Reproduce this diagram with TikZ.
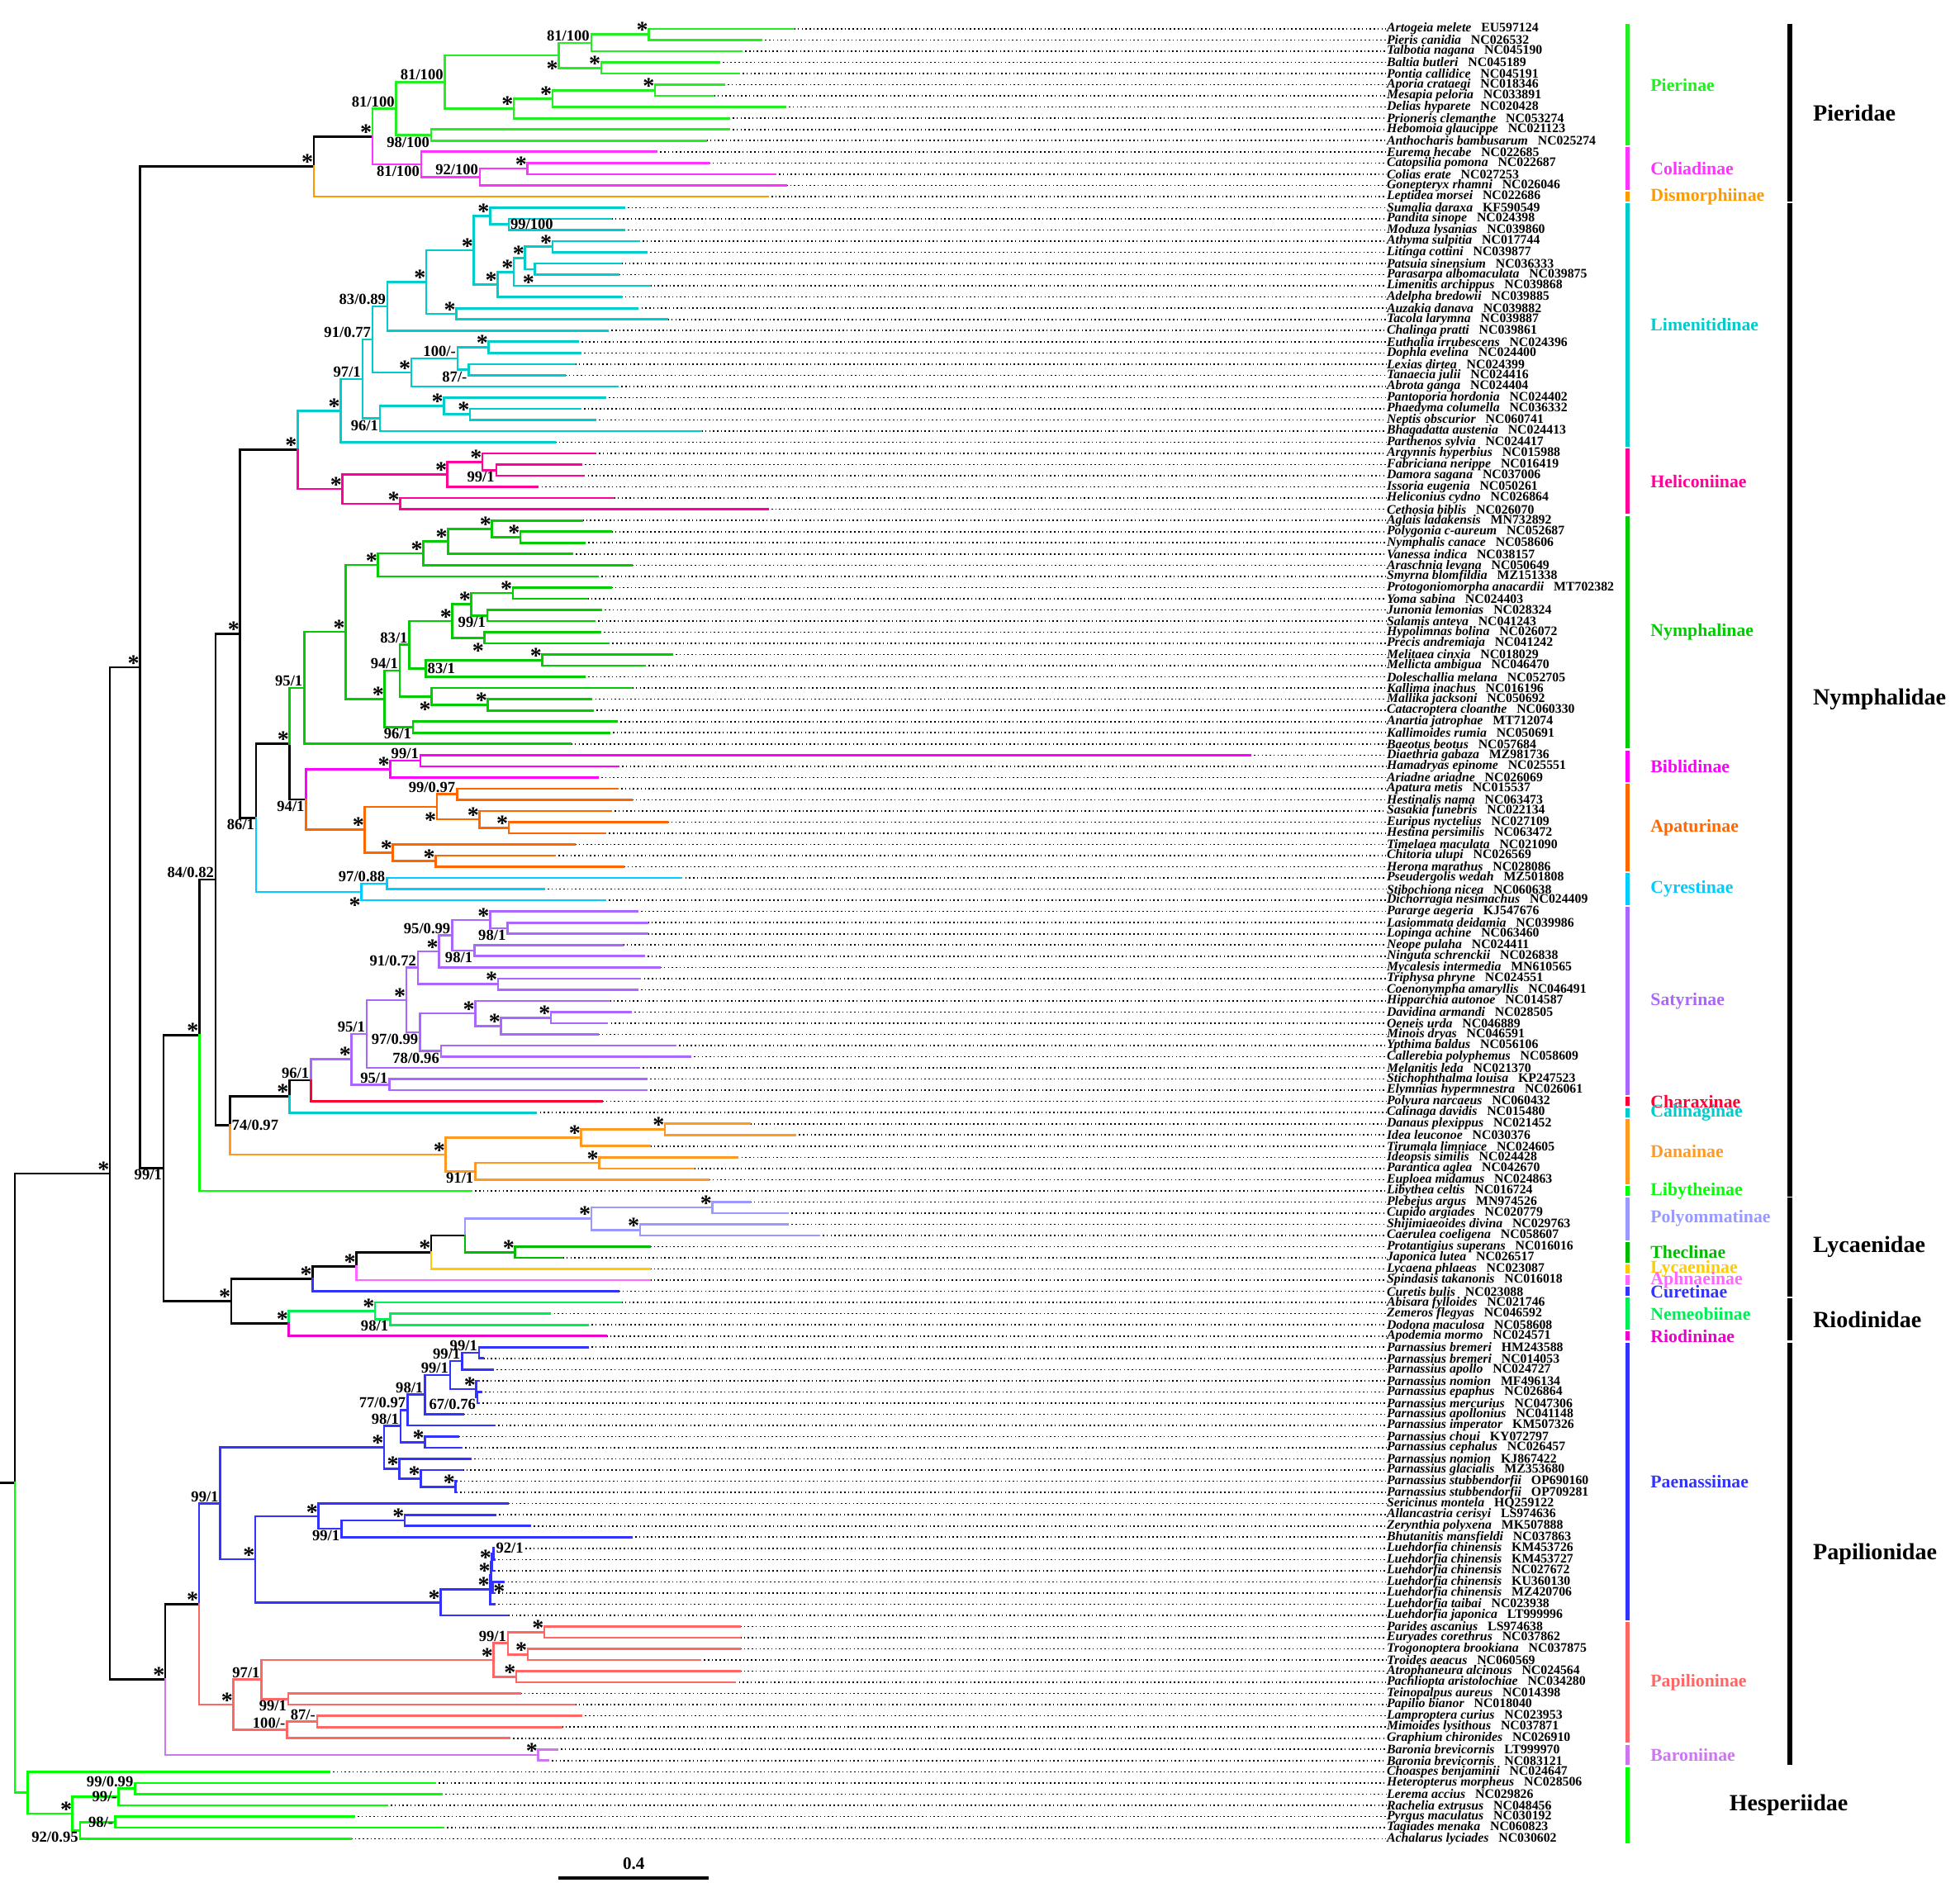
\documentclass[tikz,border=0pt]{standalone}
\usepackage{fontspec}
\setmainfont{Liberation Serif}
\usetikzlibrary{calc}

\definecolor{pier}{RGB}{34,238,34}
\definecolor{coli}{RGB}{255,51,255}
\definecolor{dism}{RGB}{255,153,0}
\definecolor{lime}{RGB}{0,204,204}
\definecolor{heli}{RGB}{255,0,153}
\definecolor{nymp}{RGB}{0,204,0}
\definecolor{bibl}{RGB}{255,0,255}
\definecolor{apat}{RGB}{255,102,0}
\definecolor{cyre}{RGB}{0,204,255}
\definecolor{saty}{RGB}{170,102,255}
\definecolor{char}{RGB}{255,0,51}
\definecolor{cali}{RGB}{0,204,204}
\definecolor{dana}{RGB}{255,153,34}
\definecolor{liby}{RGB}{0,255,0}
\definecolor{poly}{RGB}{153,153,255}
\definecolor{thec}{RGB}{0,187,0}
\definecolor{lyca}{RGB}{255,204,0}
\definecolor{aphn}{RGB}{255,102,255}
\definecolor{cure}{RGB}{51,51,255}
\definecolor{neme}{RGB}{0,238,85}
\definecolor{riod}{RGB}{238,0,204}
\definecolor{paen}{RGB}{51,51,255}
\definecolor{papi}{RGB}{255,102,102}
\definecolor{baro}{RGB}{204,119,238}
\definecolor{hesp}{RGB}{0,255,0}

% clade node: x given, y halfway between first and last child
\newcommand\clade[4]{\coordinate (tmp) at ($(#3)!0.5!(#4)$);
  \coordinate (#1) at (#2,0 |- tmp);}
\newcommand\kids[3][]{\foreach \ch in {#3} {\draw[br,#1] (#2) |- (\ch);}}
\newcommand\supA[2]{\node[sup,anchor=south east] (s#1) at (#1) {#2};}
\newcommand\supB[2]{\node[sup,anchor=north east] (s#1) at (#1) {#2};}
\newcommand\supL[2]{\node[sup,anchor=east] (s#1) at (#1) {#2};}
\newcommand\supR[2]{\node[sup,anchor=west] (s#1) at (#1) {#2};}
\newcommand\astA[1]{\node[ast,anchor=base east,yshift=-1.2pt] (k#1) at (#1) {*};}
\newcommand\astB[1]{\node[ast,anchor=base east,yshift=-7.2pt] (k#1) at (#1) {*};}
\newcommand\astR[1]{\node[ast,anchor=base west,yshift=-4.2pt] (k#1) at (#1) {*};}

\begin{document}
\begin{tikzpicture}[x=0.015134cm, y=-0.1353cm,
  br/.style={line width=0.75pt, line cap=rect},
  dots/.style={line width=0.45pt, dash pattern=on 0.45pt off 0.9pt},
  taxon/.style={anchor=west, inner sep=0pt, font=\fontsize{4.5}{5}\selectfont\bfseries},
  sup/.style={inner sep=0.4pt, font=\fontsize{5.3}{6}\selectfont\bfseries},
  ast/.style={inner sep=0pt, font=\fontsize{8}{8}\selectfont\bfseries},
  bar/.style={line width=1.4pt},
  fbar/.style={line width=1.6pt},
  sub/.style={anchor=west, inner sep=0pt, font=\fontsize{6.2}{7}\selectfont\bfseries},
  fam/.style={anchor=west, inner sep=0pt, font=\fontsize{8}{10}\selectfont\bfseries}]

\useasboundingbox (0,-1.587) rectangle (1568,168.18);

% tips and names
\foreach \rw/\xe/\nm/\ac in {
1/635/Artogeia melete/EU597124, 2/609/Pieris canidia/NC026532,
3/593/Talbotia nagana/NC045190, 4/575/Baltia butleri/NC045189,
5/591/Pontia callidice/NC045191, 6/579/Aporia crataegi/NC018346,
7/571/Mesapia peloria/NC033891, 8/628/Delias hyparete/NC020428,
9/583/Prioneris clemanthe/NC053274, 10/583/Hebomoia glaucippe/NC021123,
11/565/Anthocharis bambusarum/NC025274, 12/525/Eurema hecabe/NC022685,
13/567/Catopsilia pomona/NC022687, 14/620/Colias erate/NC027253,
15/629/Gonepteryx rhamni/NC026046, 16/614/Leptidea morsei/NC022686,
17/499/Sumalia daraxa/KF590549, 18/489/Pandita sinope/NC024398,
19/499/Moduza lysanias/NC039860, 20/511/Athyma sulpitia/NC017744,
21/517/Litinga cottini/NC039877, 22/497/Patsuia sinensium/NC036333,
23/495/Parasarpa albomaculata/NC039875, 24/520/Limenitis archippus/NC039868,
25/497/Adelpha bredowii/NC039885, 26/510/Auzakia danava/NC039882,
27/534/Tacola larymna/NC039887, 28/486/Chalinga pratti/NC039861,
29/462/Euthalia irrubescens/NC024396, 30/464/Dophla evelina/NC024400,
31/460/Lexias dirtea/NC024399, 32/452/Tanaecia julii/NC024416,
33/494/Abrota ganga/NC024404, 34/484/Pantoporia hordonia/NC024402,
35/464/Phaedyma columella/NC036332, 36/476/Neptis obscurior/NC060741,
37/561/Bhagadatta austenia/NC024413, 38/444/Parthenos sylvia/NC024417,
39/476/Argynnis hyperbius/NC015988, 40/465/Fabriciana nerippe/NC016419,
41/467/Damora sagana/NC037006, 42/430/Issoria eugenia/NC050261,
43/491/Heliconius cydno/NC026864, 44/614/Cethosia biblis/NC026070,
45/465.8/Aglais ladakensis/MN732892, 46/489/Polygonia c-aureum/NC052687,
47/467.6/Nymphalis canace/NC058606, 48/457.7/Vanessa indica/NC038157,
49/505.5/Araschnia levana/NC050649, 50/478/Smyrna blomfildia/MZ151338,
51/489/Protogoniomorpha anacardii/MT702382, 52/469.8/Yoma sabina/NC024403,
53/480.8/Junonia lemonias/NC028324, 54/475.3/Salamis anteva/NC041243,
55/480.2/Hypolimnas bolina/NC026072, 56/486.8/Precis andremiaja/NC041242,
57/537.4/Melitaea cinxia/NC018029, 58/515.8/Mellicta ambigua/NC046470,
59/467.6/Doleschallia melana/NC052705, 60/505.5/Kallima inachus/NC016196,
61/473/Mallika jacksoni/NC050692, 62/474.2/Catacroptera cloanthe/NC060330,
63/493.4/Anartia jatrophae/MT712074, 64/487.2/Kallimoides rumia/NC050691,
65/456.6/Baeotus beotus/NC057684, 66/1000/Diaethria gabaza/MZ981736,
67/494.5/Hamadryas epinome/NC025551, 68/478/Ariadne ariadne/NC026069,
69/493.8/Apatura metis/NC015537, 70/505.5/Hestinalis nama/NC063473,
71/488.5/Sasakia funebris/NC022134, 72/534/Euripus nyctelius/NC027109,
73/484/Hestina persimilis/NC063472, 74/459.9/Timelaea maculata/NC021090,
75/443.8/Chitoria ulupi/NC026569, 76/498.9/Herona marathus/NC028086,
77/545/Pseudergolis wedah/MZ501808, 78/435/Stibochiona nicea/NC060638,
79/483.8/Dichorragia nesimachus/NC024409, 80/509.6/Pararge aegeria/KJ547676,
81/518/Lasiommata deidamia/NC039986, 82/518/Lopinga achine/NC063460,
83/498.3/Neope pulaha/NC024411, 84/515/Ninguta schrenckii/NC026838,
85/528/Mycalesis intermedia/MN610565, 86/512/Triphysa phryne/NC024551,
87/509.6/Coenonympha amaryllis/NC046491, 88/487.6/Hipparchia autonoe/NC014587,
89/504.6/Davidina armandi/NC028505, 90/485.6/Oeneis urda/NC046889,
91/478.5/Minois dryas/NC046591, 92/540/Ypthima baldus/NC056106,
93/552/Callerebia polyphemus/NC058609, 94/510.9/Melanitis leda/NC021370,
95/517/Stichophthalma louisa/KP247523, 96/517/Elymnias hypermnestra/NC026061,
97/481.8/Polyura narcaeus/NC060432, 98/428.7/Calinaga davidis/NC015480,
99/600/Danaus plexippus/NC021452, 100/636/Idea leuconoe/NC030376,
101/520/Tirumala limniace/NC024605, 102/590/Ideopsis similis/NC024428,
103/555/Parantica aglea/NC042670, 104/567/Euploea midamus/NC024863,
105/377/Libythea celtis/NC016724, 106/600/Plebejus argus/MN974526,
107/630/Cupido argiades/NC020779, 108/630/Shijimiaeoides divina/NC029763,
109/655/Caerulea coeligena/NC058607, 110/520/Protantigius superans/NC016016,
111/450/Japonica lutea/NC026517, 112/520/Lycaena phlaeas/NC023087,
113/520/Spindasis takanonis/NC016018, 114/495/Curetis bulis/NC023088,
115/497/Abisara fylloides/NC021746, 116/440/Zemeros flegyas/NC046592,
117/470/Dodona maculosa/NC058608, 118/485/Apodemia mormo/NC024571,
119/470/Parnassius bremeri/HM243588, 120/386.5/Parnassius bremeri/NC014053,
121/394.3/Parnassius apollo/NC024727, 122/383/Parnassius nomion/MF496134,
123/385/Parnassius epaphus/NC026864, 124/383/Parnassius mercurius/NC047306,
125/370.7/Parnassius apollonius/NC041148, 126/395.4/Parnassius imperator/KM507326,
127/366.7/Parnassius choui/KY072797, 128/368.9/Parnassius cephalus/NC026457,
129/376.2/Parnassius nomion/KJ867422, 130/370/Parnassius glacialis/MZ353680,
131/365/Parnassius stubbendorfii/OP690160, 132/365/Parnassius stubbendorfii/OP709281,
133/406.4/Sericinus montela/HQ259122, 134/396/Allancastria cerisyi/LS974636,
135/424/Zerynthia polyxena/MK507888, 136/505/Bhutanitis mansfieldi/NC037863,
137/395.4/Luehdorfia chinensis/KM453726, 138/395.4/Luehdorfia chinensis/KM453727,
139/395.4/Luehdorfia chinensis/NC027672, 140/403/Luehdorfia chinensis/KU360130,
141/395.4/Luehdorfia chinensis/MZ420706, 142/395.4/Luehdorfia taibai/NC023938,
143/406.4/Luehdorfia japonica/LT999996, 144/592/Parides ascanius/LS974638,
145/592/Euryades corethrus/NC037862, 146/592/Trogonoptera brookiana/NC037875,
147/560/Troides aeacus/NC060569, 148/592/Atrophaneura alcinous/NC024564,
149/588/Pachliopta aristolochiae/NC034280, 150/416.3/Teinopalpus aureus/NC014398,
151/459.9/Papilio bianor/NC018040, 152/465/Lamproptera curius/NC023953,
153/449.3/Mimoides lysithous/NC037871, 154/407.5/Graphium chironides/NC026910,
155/445.6/Baronia brevicornis/LT999970, 156/438.3/Baronia brevicornis/NC083121,
157/263.2/Choaspes benjaminii/NC024647, 158/348/Heteropterus morpheus/NC028506,
159/353/Lerema accius/NC029826, 160/309.5/Rachelia extrusus/NC048456,
161/283/Pyrgus maculatus/NC030192, 162/354.6/Tagiades menaka/NC060823,
163/280.8/Achalarus lyciades/NC030602}
{
  \coordinate (t\rw) at (\xe,\rw);
  \node[taxon] (l\rw) at (1109,\rw) {\textit{\nm}\hspace{0.75em}\ac};
  \draw[dots] (t\rw) -- (l\rw.west);
}

% Pieridae
\clade{P6}{519}{t1}{t2}
\clade{P5}{473}{P6}{t3}
\clade{P7}{481}{t4}{t5}
\clade{P4}{447}{P5}{P7}
\clade{P10}{524}{t6}{t7}
\clade{P9}{442}{P10}{t8}
\clade{P8}{411}{P9}{t9}
\clade{P3}{356}{P4}{P8}
\clade{P11}{345}{t10}{t11}
\clade{P2}{317}{P3}{P11}
\clade{P14}{422}{t13}{t14}
\clade{P13}{384}{P14}{t15}
\clade{P12}{337}{t12}{P13}
\clade{P1}{298}{P2}{P12}
\clade{P0}{251}{P1}{t16}
% Limenitidinae, Heliconiinae
\clade{L16}{407}{t18}{t19}
\clade{L15}{392}{t17}{L16}
\clade{L20}{442}{t20}{t21}
\clade{L21}{428}{t22}{t23}
\clade{L19}{420}{L20}{L21}
\clade{L18}{411}{L19}{t24}
\clade{L17}{398}{L18}{t25}
\clade{L13}{379}{L15}{L17}
\clade{L14}{365}{t26}{t27}
\clade{L12}{341}{L13}{L14}
\clade{L7}{310}{L12}{t28}
\clade{L10}{391}{t29}{t30}
\clade{L11}{375}{t31}{t32}
\clade{L9}{366}{L10}{L11}
\clade{L8}{329}{L9}{t33}
\clade{L3}{298}{L7}{L8}
\clade{L6}{376}{t35}{t36}
\clade{L5}{355}{t34}{L6}
\clade{L4}{304}{L5}{t37}
\clade{L2}{290}{L3}{L4}
\clade{L1}{272.5}{L2}{t38}
\clade{H5}{397}{t40}{t41}
\clade{H4}{386}{t39}{H5}
\clade{H2}{358}{H4}{t42}
\clade{H3}{320}{t43}{t44}
\clade{H1}{274}{H2}{H3}
\clade{NLH}{238}{L1}{H1}
% Nymphalinae
\clade{NA8}{416.3}{t46}{t47}
\clade{NA7}{393.6}{t45}{NA8}
\clade{NA6}{358.4}{NA7}{t48}
\clade{NA5}{338.5}{NA6}{t49}
\clade{NA3}{302.4}{NA5}{t50}
\clade{NA18}{410.3}{t51}{t52}
\clade{NA19}{389.8}{t53}{t54}
\clade{NA16}{377.1}{NA18}{NA19}
\clade{NA17}{387.6}{t55}{t56}
\clade{NA13}{361.9}{NA16}{NA17}
\clade{NA15}{433.9}{t57}{t58}
\clade{NA14}{340.7}{NA15}{t59}
\clade{NA11}{327.5}{NA13}{NA14}
\clade{NA20}{390.3}{t61}{t62}
\clade{NA12}{345.1}{t60}{NA20}
\clade{NA9}{319.8}{NA11}{NA12}
\clade{NA10}{330.4}{t63}{t64}
\clade{NA4}{307.7}{NA9}{NA10}
\clade{NA2}{276.4}{NA3}{NA4}
\clade{NA1}{243.4}{NA2}{t65}
% Biblidinae, Apaturinae, Cyrestinae
\clade{BI2}{336.3}{t66}{t67}
\clade{BI1}{312.1}{BI2}{t68}
\clade{AP3}{365.6}{t69}{t70}
\clade{AP5}{407}{t72}{t73}
\clade{AP4}{383.7}{t71}{AP5}
\clade{AP2}{349.5}{AP3}{AP4}
\clade{AP7}{348.4}{t75}{t76}
\clade{AP6}{314.3}{t74}{AP7}
\clade{AP1}{291.8}{AP2}{AP6}
\clade{BA}{244.9}{BI1}{AP1}
\clade{NN0}{231.7}{NA1}{BA}
\clade{CY2}{309.5}{t77}{t78}
\clade{CY1}{289}{CY2}{t79}
\clade{NC}{204.9}{NN0}{CY1}
\clade{NY2}{192}{NLH}{NC}
% Satyrinae
\clade{S13}{406}{t81}{t82}
\clade{S11}{392}{t80}{S13}
\clade{S12}{379.4}{t83}{t84}
\clade{S10}{361.7}{S11}{S12}
\clade{S8}{351.1}{S10}{t85}
\clade{S9}{398.4}{t86}{t87}
\clade{S6}{334.4}{S8}{S9}
\clade{S17}{440.8}{t89}{t90}
\clade{S16}{400.9}{S17}{t91}
\clade{S14}{380.2}{t88}{S16}
\clade{S15}{352.8}{t92}{t93}
\clade{S7}{335.9}{S14}{S15}
\clade{S4}{325}{S6}{S7}
\clade{S3}{293.4}{S4}{t94}
\clade{S5}{311.6}{t95}{t96}
\clade{S2}{281.3}{S3}{S5}
\clade{S1}{248.6}{S2}{t97}
\clade{S0}{231.4}{S1}{t98}
% Danainae
\clade{DAC}{532}{t99}{t100}
\clade{DA2}{464.9}{DAC}{t101}
\clade{DA4}{479.3}{t102}{t103}
\clade{DA3}{380.2}{DA4}{t104}
\clade{DA1}{356.6}{DA2}{DA3}
\clade{NY3}{184.1}{S0}{DA1}
\clade{NY1}{172.5}{NY2}{NY3}
\clade{NY0}{159.4}{NY1}{t105}
% Lycaenidae, Riodinidae
\clade{PO1}{570}{t106}{t107}
\clade{PO2}{512}{t108}{t109}
\clade{PO0}{473}{PO1}{PO2}
\clade{TH0}{412}{t110}{t111}
\clade{LY3}{372}{PO0}{TH0}
\clade{LY2}{345}{LY3}{t112}
\clade{LY1}{285}{LY2}{t113}
\clade{LY0}{250}{LY1}{t114}
\clade{RI2}{312}{t116}{t117}
\clade{RI1}{300}{t115}{RI2}
\clade{RI0}{231}{RI1}{t118}
\clade{LR}{185}{LY0}{RI0}
\clade{B1}{130.8}{NY0}{LR}
\clade{NPB}{112}{P0}{B1}
% Parnassiinae
\clade{PN10}{383.2}{t119}{t120}
\clade{PN11}{369.6}{PN10}{t121}
\clade{PN13}{382}{t123}{t124}
\clade{PN12}{381}{t122}{PN13}
\clade{PN8}{360.1}{PN11}{PN12}
\clade{PN7}{339.9}{PN8}{t125}
\clade{PN5}{326}{PN7}{t126}
\clade{PN6}{339.9}{t127}{t128}
\clade{PN3}{320.5}{PN5}{PN6}
\clade{PN15}{364.5}{t131}{t132}
\clade{PN14}{336.6}{t130}{PN15}
\clade{PN4}{319.4}{t129}{PN14}
\clade{PN1}{307.3}{PN3}{PN4}
\clade{PN19}{323.8}{t134}{t135}
\clade{PN18}{273.1}{PN19}{t136}
\clade{PN16}{254.8}{t133}{PN18}
\clade{PN22}{394.7}{t137}{t138}
\clade{PN25}{393.6}{PN22}{t139}
\clade{PN23}{394.3}{t140}{t141}
\clade{PN21}{392.7}{PN25}{PN23}
\clade{PN20}{392.1}{PN21}{t142}
\clade{PN17}{352.4}{PN20}{t143}
\clade{PN2}{204.2}{PN16}{PN17}
\clade{PN0}{176.2}{PN1}{PN2}
% Papilioninae, Baroniinae
\clade{PP7}{435.5}{t144}{t145}
\clade{PP8}{422.2}{t146}{t147}
\clade{PP5}{406.4}{PP7}{PP8}
\clade{PP6}{413}{t148}{t149}
\clade{PP3}{394.9}{PP5}{PP6}
\clade{PP4}{230.6}{t150}{t151}
\clade{PP1}{209.2}{PP3}{PP4}
\clade{PP9}{253.7}{t152}{t153}
\clade{PP2}{229.5}{PP9}{t154}
\clade{PP0}{186.8}{PP1}{PP2}
\clade{PA1}{159.2}{PN0}{PP0}
\clade{BR}{430.6}{t155}{t156}
\clade{PA0}{132.2}{PA1}{BR}
\clade{B0}{88}{NPB}{PA0}
% Hesperiidae, root
\clade{HS4}{108}{t158}{t159}
\clade{HS5}{95}{HS4}{t160}
\clade{HS6}{92}{t161}{t162}
\clade{HS3}{64}{HS6}{t163}
\clade{HS1}{58}{HS5}{HS3}
\clade{HS}{22}{t157}{HS1}
\clade{R}{12}{B0}{HS}
\coordinate (R0) at (0,0 |- R);

% backbone
\draw[br] (R0) -- (R);
\kids{R}{B0}
\kids{B0}{NPB,PA0}
\kids{NPB}{P0,B1}
\kids{P0}{P1}
\kids{B1}{NY0,LR}
\kids{NY0}{NY1}
\kids{NY1}{NY2,NY3}
\kids{NY2}{NLH,NC}
\kids{NC}{NN0}
\kids{NN0}{BA}
\kids{NY3}{S0}
\kids{S0}{S1}
\kids{LR}{LY0,RI0}
\kids{LY0}{LY1}
\kids{LY1}{LY2}
\kids{LY2}{LY3}
\kids{PA0}{PA1}

% Pieridae
\kids[pier]{P1}{P2}
\kids[pier]{P2}{P3,P11}
\kids[pier]{P3}{P4,P8}
\kids[pier]{P4}{P5,P7}
\kids[pier]{P5}{P6,t3}
\kids[pier]{P6}{t1,t2}
\kids[pier]{P7}{t4,t5}
\kids[pier]{P8}{P9,t9}
\kids[pier]{P9}{P10,t8}
\kids[pier]{P10}{t6,t7}
\kids[pier]{P11}{t10,t11}
\kids[coli]{P1}{P12}
\kids[coli]{P12}{t12,P13}
\kids[coli]{P13}{P14,t15}
\kids[coli]{P14}{t13,t14}
\kids[dism]{P0}{t16}

% Limenitidinae
\kids[lime]{NLH}{L1}
\kids[lime]{L1}{L2,t38}
\kids[lime]{L2}{L3,L4}
\kids[lime]{L3}{L7,L8}
\kids[lime]{L7}{L12,t28}
\kids[lime]{L12}{L13,L14}
\kids[lime]{L13}{L15,L17}
\kids[lime]{L15}{t17,L16}
\kids[lime]{L16}{t18,t19}
\kids[lime]{L17}{L18,t25}
\kids[lime]{L18}{L19,t24}
\kids[lime]{L19}{L20,L21}
\kids[lime]{L20}{t20,t21}
\kids[lime]{L21}{t22,t23}
\kids[lime]{L14}{t26,t27}
\kids[lime]{L8}{L9,t33}
\kids[lime]{L9}{L10,L11}
\kids[lime]{L10}{t29,t30}
\kids[lime]{L11}{t31,t32}
\kids[lime]{L4}{L5,t37}
\kids[lime]{L5}{t34,L6}
\kids[lime]{L6}{t35,t36}
% Heliconiinae
\kids[heli]{NLH}{H1}
\kids[heli]{H1}{H2,H3}
\kids[heli]{H2}{H4,t42}
\kids[heli]{H4}{t39,H5}
\kids[heli]{H5}{t40,t41}
\kids[heli]{H3}{t43,t44}
% Nymphalinae
\kids[nymp]{NN0}{NA1}
\kids[nymp]{NA1}{NA2,t65}
\kids[nymp]{NA2}{NA3,NA4}
\kids[nymp]{NA3}{NA5,t50}
\kids[nymp]{NA5}{NA6,t49}
\kids[nymp]{NA6}{NA7,t48}
\kids[nymp]{NA7}{t45,NA8}
\kids[nymp]{NA8}{t46,t47}
\kids[nymp]{NA4}{NA9,NA10}
\kids[nymp]{NA9}{NA11,NA12}
\kids[nymp]{NA11}{NA13,NA14}
\kids[nymp]{NA13}{NA16,NA17}
\kids[nymp]{NA16}{NA18,NA19}
\kids[nymp]{NA18}{t51,t52}
\kids[nymp]{NA19}{t53,t54}
\kids[nymp]{NA17}{t55,t56}
\kids[nymp]{NA14}{NA15,t59}
\kids[nymp]{NA15}{t57,t58}
\kids[nymp]{NA12}{t60,NA20}
\kids[nymp]{NA20}{t61,t62}
\kids[nymp]{NA10}{t63,t64}
% Biblidinae, Apaturinae, Cyrestinae
\kids[bibl]{BA}{BI1}
\kids[bibl]{BI1}{BI2,t68}
\kids[bibl]{BI2}{t66,t67}
\kids[apat]{BA}{AP1}
\kids[apat]{AP1}{AP2,AP6}
\kids[apat]{AP2}{AP3,AP4}
\kids[apat]{AP3}{t69,t70}
\kids[apat]{AP4}{t71,AP5}
\kids[apat]{AP5}{t72,t73}
\kids[apat]{AP6}{t74,AP7}
\kids[apat]{AP7}{t75,t76}
\kids[cyre]{NC}{CY1}
\kids[cyre]{CY1}{CY2,t79}
\kids[cyre]{CY2}{t77,t78}
% Satyrinae, Charaxinae, Calinaginae
\kids[saty]{S1}{S2}
\kids[saty]{S2}{S3,S5}
\kids[saty]{S3}{S4,t94}
\kids[saty]{S4}{S6,S7}
\kids[saty]{S6}{S8,S9}
\kids[saty]{S8}{S10,t85}
\kids[saty]{S10}{S11,S12}
\kids[saty]{S11}{t80,S13}
\kids[saty]{S13}{t81,t82}
\kids[saty]{S12}{t83,t84}
\kids[saty]{S9}{t86,t87}
\kids[saty]{S7}{S14,S15}
\kids[saty]{S14}{t88,S16}
\kids[saty]{S16}{S17,t91}
\kids[saty]{S17}{t89,t90}
\kids[saty]{S15}{t92,t93}
\kids[saty]{S5}{t95,t96}
\kids[char]{S1}{t97}
\kids[cali]{S0}{t98}
% Danainae, Libytheinae
\kids[dana]{NY3}{DA1}
\kids[dana]{DA1}{DA2,DA3}
\kids[dana]{DA2}{DAC,t101}
\kids[dana]{DAC}{t99,t100}
\kids[dana]{DA3}{DA4,t104}
\kids[dana]{DA4}{t102,t103}
\kids[liby]{NY0}{t105}
% Lycaenidae, Riodinidae
\kids[poly]{LY3}{PO0}
\kids[poly]{PO0}{PO1,PO2}
\kids[poly]{PO1}{t106,t107}
\kids[poly]{PO2}{t108,t109}
\kids[thec]{LY3}{TH0}
\kids[thec]{TH0}{t110,t111}
\kids[lyca]{LY2}{t112}
\kids[aphn]{LY1}{t113}
\kids[cure]{LY0}{t114}
\kids[neme]{RI0}{RI1}
\kids[neme]{RI1}{t115,RI2}
\kids[neme]{RI2}{t116,t117}
\kids[riod]{RI0}{t118}
% Parnassiinae
\kids[paen]{PA1}{PN0}
\kids[paen]{PN0}{PN1,PN2}
\kids[paen]{PN1}{PN3,PN4}
\kids[paen]{PN3}{PN5,PN6}
\kids[paen]{PN5}{PN7,t126}
\kids[paen]{PN7}{PN8,t125}
\kids[paen]{PN8}{PN11,PN12}
\kids[paen]{PN11}{PN10,t121}
\kids[paen]{PN10}{t119,t120}
\kids[paen]{PN12}{t122,PN13}
\kids[paen]{PN13}{t123,t124}
\kids[paen]{PN6}{t127,t128}
\kids[paen]{PN4}{t129,PN14}
\kids[paen]{PN14}{t130,PN15}
\kids[paen]{PN15}{t131,t132}
\kids[paen]{PN2}{PN16,PN17}
\kids[paen]{PN16}{t133,PN18}
\kids[paen]{PN18}{PN19,t136}
\kids[paen]{PN19}{t134,t135}
\kids[paen]{PN17}{PN20,t143}
\kids[paen]{PN20}{PN21,t142}
\kids[paen]{PN21}{PN25,PN23}
\kids[paen]{PN25}{PN22,t139}
\kids[paen]{PN22}{t137,t138}
\kids[paen]{PN23}{t140,t141}
% Papilioninae, Baroniinae
\kids[papi]{PA1}{PP0}
\kids[papi]{PP0}{PP1,PP2}
\kids[papi]{PP1}{PP3,PP4}
\kids[papi]{PP3}{PP5,PP6}
\kids[papi]{PP5}{PP7,PP8}
\kids[papi]{PP7}{t144,t145}
\kids[papi]{PP8}{t146,t147}
\kids[papi]{PP6}{t148,t149}
\kids[papi]{PP4}{t150,t151}
\kids[papi]{PP2}{PP9,t154}
\kids[papi]{PP9}{t152,t153}
\kids[baro]{PA0}{BR}
\kids[baro]{BR}{t155,t156}
% Hesperiidae
\kids[hesp]{R}{HS}
\kids[hesp]{HS}{t157,HS1}
\kids[hesp]{HS1}{HS5,HS3}
\kids[hesp]{HS5}{HS4,t160}
\kids[hesp]{HS4}{t158,t159}
\kids[hesp]{HS3}{HS6,t163}
\kids[hesp]{HS6}{t161,t162}

% support values
\astA{P6} \supA{P5}{81/100} \astA{P7} \astB{P4} \astA{P10} \astA{P9} \astA{P8}
\supA{P3}{81/100} \supB{P11}{98/100} \supA{P2}{81/100} \astA{P14}
\supA{P13}{92/100} \supB{P12}{81/100} \astA{P1} \astA{P0}
\astA{L15} \supR{L16}{99/100} \astA{L13} \astA{L20} \astB{L21} \astA{L19}
\astA{L18} \astA{L17} \astA{L12} \astA{L14} \supA{L7}{83/0.89} \astA{L10}
\supB{L11}{87/-} \supA{L9}{100/-} \astA{L8} \supA{L3}{91/0.77} \astA{L6}
\astA{L5} \supB{L4}{96/1} \supA{L2}{97/1} \astA{L1}
\astA{H4} \supB{H5}{99/1} \astA{H2} \astA{H3} \astA{H1} \astA{NLH}
\astA{NA8} \astA{NA7} \astA{NA6} \astA{NA5} \astA{NA3} \astA{NA18}
\supB{NA19}{99/1} \astA{NA16} \astB{NA17} \astA{NA13} \astA{NA15}
\supR{NA14}{83/1} \supA{NA11}{83/1} \astA{NA20} \astB{NA12} \supA{NA9}{94/1}
\supB{NA10}{96/1} \astA{NA4} \astA{NA2} \supA{NA1}{95/1} \astA{NN0}
\supA{BI2}{99/1} \astA{BI1} \supA{AP3}{99/0.97} \astA{AP5} \astA{AP4}
\astB{AP2} \astA{AP7} \astA{AP6} \astA{AP1} \supB{BA}{94/1}
\supA{CY2}{97/0.88} \astB{CY1} \supB{NC}{86/1} \astA{NY2} \supA{NY1}{84/0.82}
\supB{S13}{98/1} \astA{S11} \supB{S12}{98/1} \supA{S10}{95/0.99} \astA{S8}
\astA{S9} \supA{S6}{91/0.72} \astA{S17} \astA{S16} \astA{S14}
\supB{S15}{78/0.96} \supB{S7}{97/0.99} \astA{S4} \supA{S3}{95/1}
\supA{S5}{95/1} \astA{S2} \supA{S1}{96/1} \astA{S0} \supR{NY3}{74/0.97}
\astA{DAC} \astA{DA2} \astA{DA4} \supB{DA3}{91/1} \astA{DA1}
\astA{NY0} \supB{B1}{99/1} \astA{NPB} \astA{B0}
\astA{PO1} \astA{PO0} \astA{PO2} \astA{TH0} \astA{LY2} \astA{LY1} \astA{LY0}
\astA{LR} \astA{RI1} \supB{RI2}{98/1} \astA{RI0}
\supA{PN10}{99/1} \supA{PN11}{99/1} \astA{PN12} \supB{PN13}{67/0.76}
\supA{PN8}{99/1} \supA{PN7}{98/1} \supA{PN5}{77/0.97} \astA{PN6}
\supA{PN3}{98/1} \astA{PN15} \astA{PN14} \astA{PN4} \astA{PN1} \astA{PN19}
\supB{PN18}{99/1} \astA{PN16} \astA{PN25} \astA{PN21} \astA{PN20}
\astR{PN23} \astA{PN17} \astA{PN2} \supA{PN0}{99/1}
\node[sup,anchor=west,fill=white] (sPN22) at (t137) {92/1};
\astA{PP7} \astA{PP8} \supA{PP5}{99/1} \astA{PP6} \astA{PP3}
\supB{PP4}{99/1} \supA{PP1}{97/1} \supA{PP9}{87/-} \supA{PP2}{100/-}
\astA{PP0} \astA{PA1} \astA{BR} \astA{PA0}
\supA{HS4}{99/0.99} \supL{HS5}{99/-} \astA{HS1} \supL{HS6}{98/-}
\supB{HS3}{92/0.95}

% subfamily bars
\foreach \a/\b/\cl/\nm [count=\i] in {1/11/pier/Pierinae, 12/15/coli/Coliadinae,
  16/16/dism/Dismorphiinae, 17/38/lime/Limenitidinae, 39/44/heli/Heliconiinae,
  45/65/nymp/Nymphalinae, 66/68/bibl/Biblidinae, 69/76/apat/Apaturinae,
  77/79/cyre/Cyrestinae, 80/96/saty/Satyrinae, 97/97/char/Charaxinae,
  98/98/cali/Calinaginae, 99/104/dana/Danainae, 105/105/liby/Libytheinae,
  106/109/poly/Polyommatinae, 110/111/thec/Theclinae, 112/112/lyca/Lycaeninae,
  113/113/aphn/Aphnaeinae, 114/114/cure/Curetinae, 115/117/neme/Nemeobiinae,
  118/118/riod/Riodininae, 119/143/paen/Paenassiinae, 144/154/papi/Papilioninae,
  155/156/baro/Baroniinae}
{
  \draw[bar,\cl] (1302,\a-0.42) -- (1302,\b+0.42);
  \node[sub,text=\cl] (sf\i) at (1320,{(\a+\b)/2}) {\nm};
}
\draw[bar,hesp] (1302,156.58) -- (1302,163.42);

% families
\draw[fbar] (1432,0.55) -- (1432,16.45);
\draw[fbar] (1432,16.6) -- (1432,105.5);
\draw[fbar] (1432,105.6) -- (1432,114.5);
\draw[fbar] (1432,114.6) -- (1432,118.4);
\draw[fbar] (1432,118.6) -- (1432,156.4);
\node[fam] (fPie) at (1450,8.5) {Pieridae};
\node[fam] (fNym) at (1450,61) {Nymphalidae};
\node[fam] (fLyc) at (1450,110) {Lycaenidae};
\node[fam] (fRio) at (1450,116.5) {Riodinidae};
\node[fam] (fPap) at (1450,137.5) {Papilionidae};
\node[fam] (fHes) at (1383,160) {Hesperiidae};

% scale bar
\coordinate (sc1) at (447,166.5);
\coordinate (sc2) at (567,166.5);
\draw[line width=1pt] (sc1) -- (sc2);
\node[sup,anchor=south,font=\fontsize{6}{7}\selectfont\bfseries] (scl) at ($(sc1)!0.5!(sc2)+(0,-0.6)$) {0.4};

\end{tikzpicture}
\end{document}
